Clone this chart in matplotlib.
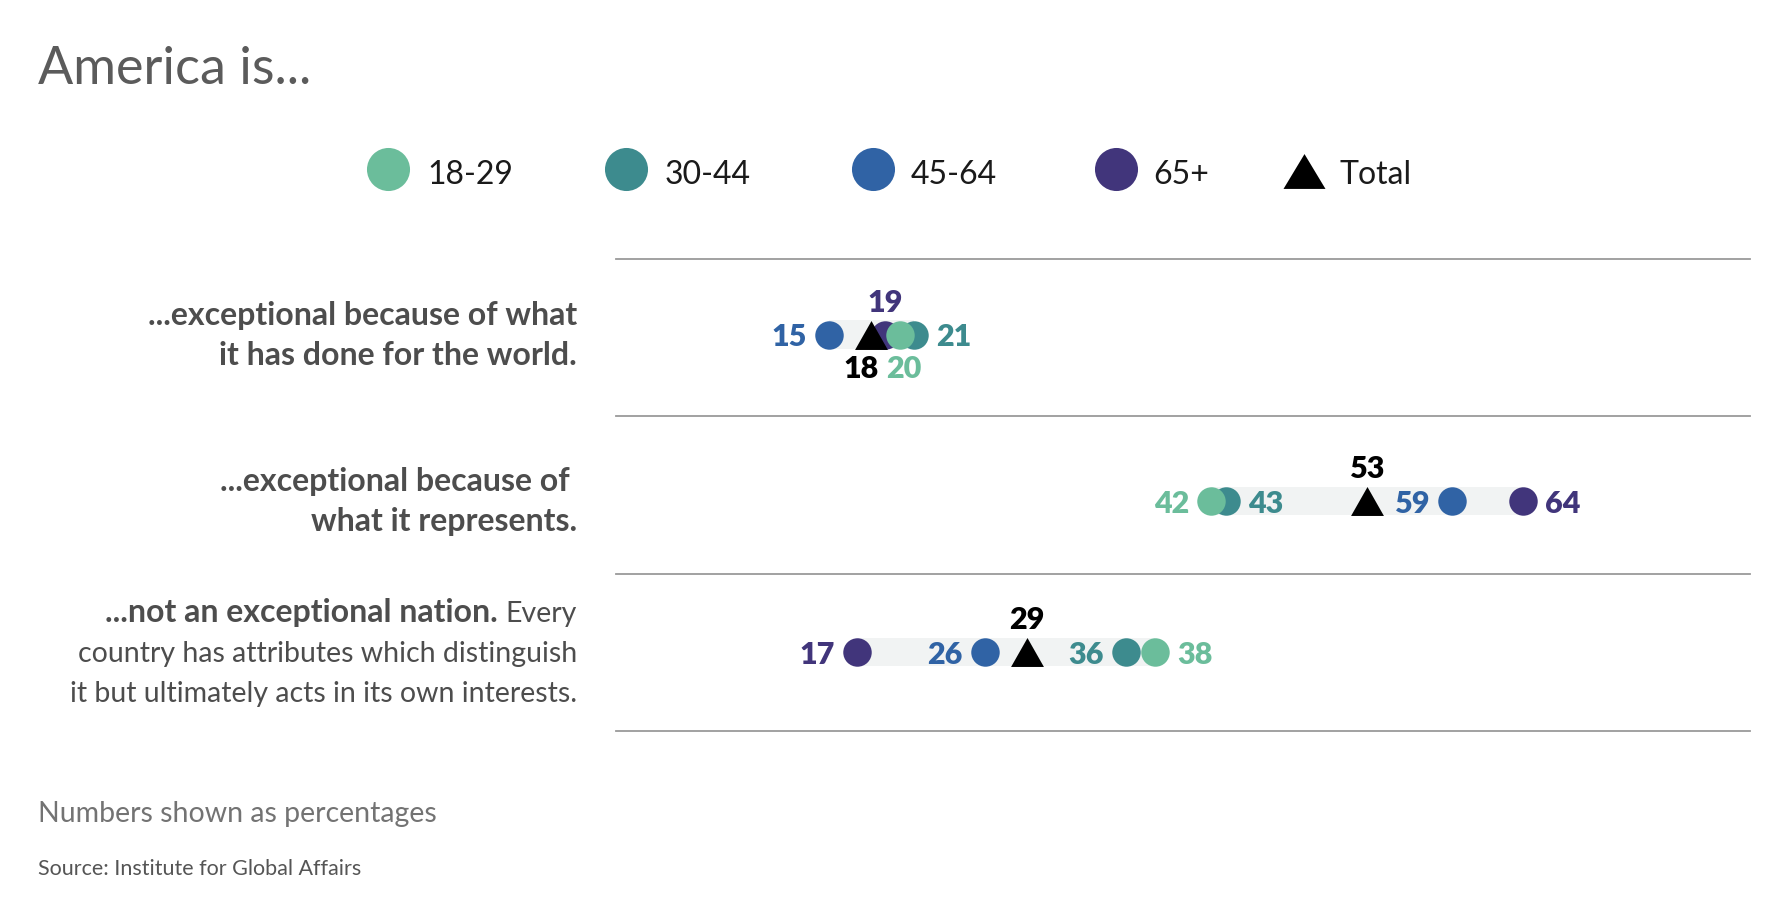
import matplotlib.pyplot as plt
from matplotlib.transforms import blended_transform_factory

plt.rcParams['font.family'] = ['Lato', 'DejaVu Sans']

# age groups and their colours
groups = ['18-29', '30-44', '45-64', '65+', 'Total']
colors = ['#6bbd9b', '#3d8b8e', '#3063a5', '#41357b', '#000000']

# values per statement (top to bottom)
v_18_29 = [20, 42, 38]
v_30_44 = [21, 43, 36]
v_45_64 = [15, 59, 26]
v_65_up = [19, 64, 17]
v_total = [18, 53, 29]
values = [v_18_29, v_30_44, v_45_64, v_65_up, v_total]

# statement text, each line is (bold part, plain part)
statements = [
    [('...exceptional because of what', ''), ('it has done for the world.', '')],
    [('...exceptional because of ', ''), ('what it represents.', '')],
    [('...not an exceptional nation.', 'Every'),
     ('', 'country has attributes which distinguish'),
     ('', 'it but ultimately acts in its own interests.')],
]

# where each number sits next to its dot
label_side = [
    ['bottom', 'left', 'right'],
    ['right', 'right', 'left'],
    ['left', 'left', 'left'],
    ['top', 'right', 'left'],
    ['bottom', 'top', 'top'],
]
# small sideways nudges (points) so row 1 labels don't collide
label_dx = [
    [3, 0, 0],
    [0, 0, 0],
    [0, 0, 0],
    [0, 0, 0],
    [-7, 0, 0],
]

rows = [-0.02, 1.04, 2.0]

fig = plt.figure(figsize=(17.75, 9.19), dpi=100)

# overlay in pixel coords for titles/legend
over = fig.add_axes([0, 0, 1, 1])
over.set_xlim(0, 1775)
over.set_ylim(919, 0)
over.axis('off')

ax = fig.add_axes([616/1775, 1-731/919, 1134/1775, 472/919])
ax.set_xlim(0, 80)
ax.set_ylim(2.5, -0.5)
ax.axis('off')

for y in [-0.5, 0.5, 1.5, 2.5]:
    ax.axhline(y, color='#9a9a9a', lw=1.3, clip_on=False)

# light grey range bar behind each row
for i, r in enumerate(rows):
    vals = [v[i] for v in values]
    ax.barh(r, max(vals) - min(vals), left=min(vals), height=0.18,
            color='#f1f3f3', zorder=0)

tri = [(0, 0.88), (-1, -0.88), (1, -0.88)]
zorders = [4, 2, 3, 1, 5]
for g, vals, c, z in zip(groups, values, colors, zorders):
    if g == 'Total':
        ax.scatter(vals, rows, s=560, marker=tri, color=c, lw=0, zorder=z)
    else:
        ax.scatter(vals, rows, s=420, marker='o', color=c, lw=0, zorder=z)

# numbers
for gi, vals in enumerate(values):
    for i, v in enumerate(vals):
        side = label_side[gi][i]
        dx = label_dx[gi][i]
        if side == 'left':
            off, ha = (-16 + dx, -8.5), 'right'
        elif side == 'right':
            off, ha = (16 + dx, -8.5), 'left'
        elif side == 'top':
            off, ha = (dx, 16.5), 'center'
        else:
            off, ha = (dx, -31), 'center'
        ax.annotate(str(v), (v, rows[i]), xytext=off, textcoords='offset points',
                    ha=ha, va='baseline', fontsize=22, fontweight='heavy',
                    color=colors[gi], zorder=10)

# statement labels, right aligned left of the chart
trans = blended_transform_factory(over.transData, ax.transData)
renderer = fig.canvas.get_renderer()
x_txt = 577
for i, lines in enumerate(statements):
    n = len(lines)
    for k, (b, p) in enumerate(lines):
        dy = -(10 + (k - (n - 1) / 2) * 40) * 0.72
        x = x_txt
        if p:
            t = ax.annotate(p, (x, rows[i]), xycoords=trans, xytext=(0, dy),
                            textcoords='offset points', ha='right', va='baseline',
                            fontsize=20.5, color='#4d4d4d')
            w = t.get_window_extent(renderer).width
            x = x - w - 8
        if b:
            ax.annotate(b, (x, rows[i]), xycoords=trans, xytext=(0, dy),
                        textcoords='offset points', ha='right', va='baseline',
                        fontsize=23, fontweight='bold', color='#4d4d4d')

# legend
leg_dot_x = [388, 626, 873, 1116, 1304]
leg_txt_x = [427, 665, 911, 1153, 1340]
tri_leg = [(0, 0.83), (-1, -0.83), (1, -0.83)]
for g, c, xd, xt in zip(groups, colors, leg_dot_x, leg_txt_x):
    if g == 'Total':
        over.scatter([xd], [171], s=914, marker=tri_leg, color=c, lw=0)
    else:
        over.scatter([xd], [168.5], s=961, marker='o', color=c, lw=0)
    over.text(xt, 184, g, fontsize=23, color='#1a1a1a', va='baseline')

over.text(38, 84, 'America is...', fontsize=37.5, color='#5b5b5b', va='baseline')
over.text(38, 822, 'Numbers shown as percentages', fontsize=20.5,
          color='#737373', va='baseline')
over.text(38, 875, 'Source: Institute for Global Affairs', fontsize=15.5,
          color='#555555', va='baseline')

plt.savefig('out.png', dpi=100)
